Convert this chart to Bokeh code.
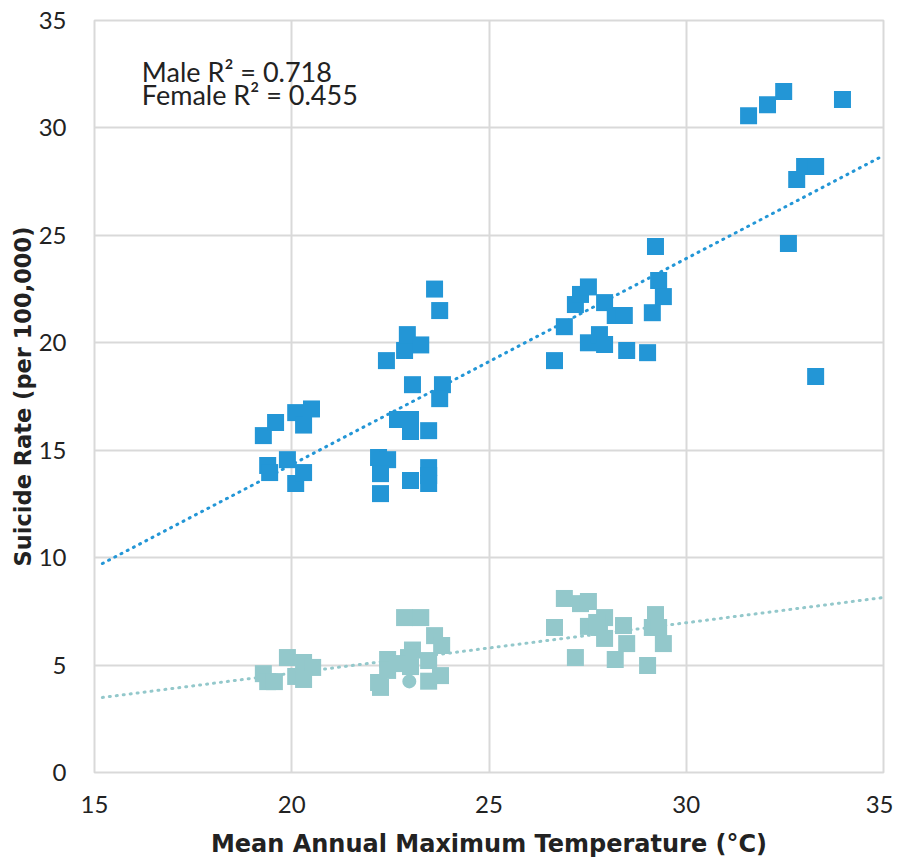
from bokeh.plotting import figure
from bokeh.models import Range1d, FixedTicker, Label
from bokeh.embed import file_html
from bokeh.resources import INLINE
import numpy as np

# ---- data ----
male_x = [19.28, 19.39, 19.44, 19.59, 19.89, 20.10, 20.10, 20.30, 20.30, 20.50,
          22.20, 22.43, 22.25, 22.25, 22.40, 22.68, 23.01, 23.01, 23.47, 22.86,
          22.93, 23.27, 23.06, 23.82, 23.75, 23.62, 23.75, 23.01, 23.47, 23.47, 23.47,
          26.66, 26.91, 27.19, 27.32, 27.52, 27.93, 27.52, 27.80, 27.93, 28.20,
          28.43, 28.49, 29.02, 29.14, 29.30, 29.42, 29.22,
          31.58, 32.06, 32.47, 33.96, 33.00, 33.28, 32.80, 32.59, 33.28]
male_y = [15.68, 14.29, 13.96, 16.29, 14.56, 13.45, 16.75, 16.17, 13.96, 16.92,
          14.66, 14.56, 13.91, 12.98, 19.17, 16.43, 16.43, 15.87, 15.91, 19.64,
          20.38, 19.90, 18.05, 18.05, 17.40, 22.50, 21.50, 13.59, 14.19, 13.82, 13.45,
          19.17, 20.75, 21.78, 22.25, 22.60, 21.87, 20.00, 20.38, 19.92, 21.27,
          21.27, 19.64, 19.54, 21.40, 22.90, 22.15, 24.48,
          30.57, 31.08, 31.69, 31.32, 28.20, 28.20, 27.60, 24.62, 18.43]

female_x = [19.28, 19.39, 19.56, 19.89, 20.30, 20.53, 20.10, 20.30,
            22.86, 23.27, 23.62, 23.80, 22.43, 22.43, 23.06, 22.96, 23.01, 23.47,
            23.47, 23.77, 22.20, 22.25, 22.68,
            26.91, 27.32, 27.52, 27.93, 26.66, 27.52, 27.80, 28.41, 27.93, 28.49,
            29.22, 29.14, 29.30, 29.42, 27.19, 28.20, 29.02, 27.73]
female_y = [4.60, 4.23, 4.23, 5.35, 5.12, 4.89, 4.47, 4.33,
            7.21, 7.21, 6.37, 5.91, 5.26, 4.75, 5.70, 5.35, 4.93, 5.21,
            4.25, 4.51, 4.19, 3.96, 5.07,
            8.10, 7.86, 7.96, 7.21, 6.75, 6.80, 6.75, 6.84, 6.24, 6.00,
            7.35, 6.75, 6.75, 6.00, 5.35, 5.26, 4.98, 6.98]
female_circle_x = [22.98]
female_circle_y = [4.24]

# trend lines (slope, intercept) and x extent
male_trend = (0.959, -4.85)
female_trend = (0.235, -0.08)
trend_x = [15.2, 35.0]

x_ticks = [15, 20, 25, 30, 35]
y_ticks = [0, 5, 10, 15, 20, 25, 30, 35]

MALE_C = "#2396D6"
FEMALE_C = "#93C8CB"
GRID_C = "#D9D9D9"
FONT = "Lato"
TITLE_FONT = "DejaVu Sans"

p = figure(width=893, height=866, output_backend="svg", toolbar_location=None,
           x_range=Range1d(15, 35), y_range=Range1d(0, 35),
           min_border_left=94, min_border_top=20, min_border_right=10, min_border_bottom=94)

p.outline_line_color = GRID_C
p.outline_line_width = 2
p.xgrid.grid_line_color = GRID_C
p.ygrid.grid_line_color = GRID_C
p.xgrid.grid_line_width = 2
p.ygrid.grid_line_width = 2
p.xaxis.ticker = FixedTicker(ticks=x_ticks)
p.yaxis.ticker = FixedTicker(ticks=y_ticks)

for ax in (p.xaxis[0], p.yaxis[0]):
    ax.axis_line_color = None
    ax.major_tick_line_color = None
    ax.minor_tick_line_color = None
    ax.major_label_text_font = FONT
    ax.major_label_text_font_size = "24px"
    ax.major_label_text_color = "#222222"
    ax.axis_label_text_font = TITLE_FONT
    ax.axis_label_text_font_style = "bold"
    ax.axis_label_text_color = "#222222"

p.xaxis.axis_label = "Mean Annual Maximum Temperature (°C)"
p.yaxis.axis_label = "Suicide Rate (per 100,000)"
p.xaxis.axis_label_text_font_size = "24px"
p.yaxis.axis_label_text_font_size = "22.5px"
p.xaxis.major_label_standoff = 17
p.yaxis.major_label_standoff = 22
p.xaxis.axis_label_standoff = 14
p.yaxis.axis_label_standoff = 0

# trend lines
tx = np.array(trend_x)
p.line(tx, male_trend[0] * tx + male_trend[1], line_color=MALE_C, line_width=3, line_dash="1 6", line_cap="round")
p.line(tx, female_trend[0] * tx + female_trend[1], line_color=FEMALE_C, line_width=3, line_dash="1 6", line_cap="round")

# points
p.scatter(female_circle_x, female_circle_y, marker="circle", size=14, fill_color=FEMALE_C, line_color=None)
p.scatter(female_x, female_y, marker="square", size=17, fill_color=FEMALE_C, line_color=None)
p.scatter(male_x, male_y, marker="square", size=17, fill_color=MALE_C, line_color=None)

p.add_layout(Label(x=16.2, y=32.62, text="Male R² = 0.718", text_font=FONT, text_font_size="27px",
                   text_color="#222222", text_baseline="alphabetic"))
p.add_layout(Label(x=16.2, y=31.55, text="Female R² = 0.455", text_font=FONT, text_font_size="27px",
                   text_color="#222222", text_baseline="alphabetic"))

open("out.html", "w").write(file_html(p, INLINE))
